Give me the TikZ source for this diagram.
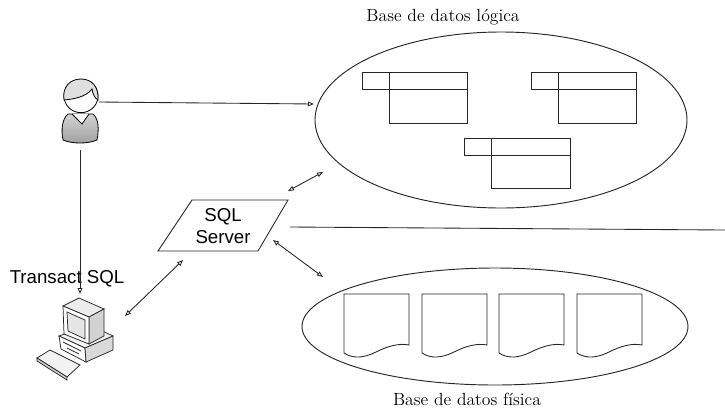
\documentclass[tikz,border=0pt]{standalone}
\usepackage{fontspec}
\newfontfamily\arialfont{Liberation Sans}
\usetikzlibrary{arrows.meta,shapes.geometric}

\begin{document}
\begin{tikzpicture}[x=0.75pt,y=-0.75pt,
  ln/.style={line width=0.65pt, draw=black!85},
  onetip/.style={-{Triangle[open,length=4.5pt,width=3.5pt]}},
  twotip/.style={{Triangle[open,length=4.5pt,width=3.5pt]}-{Triangle[open,length=4.5pt,width=3.5pt]}},
  bubble/.style={ellipse, draw=black!85, line width=0.7pt, inner sep=0pt},
  caption/.style={font=\fontsize{13.2}{15}\selectfont, inner sep=0pt},
  sans/.style={font=\arialfont\fontsize{14}{16.5}\selectfont, inner sep=0pt, align=center},
  tbl/.style={draw=black!85, line width=0.65pt},
  docsheet/.style={draw=black!85, line width=0.65pt}
]
\useasboundingbox (0,0) rectangle (725,412);

% ---- logical database ----
\node[caption] (ttop) at (443,17) {Base de datos lógica};
\node[bubble, minimum width=279pt, minimum height=132pt] (logic) at (501,120) {};

% tables: header row with key cell, body under the wide part
\foreach \l/\d/\r/\t/\b in {362/389/467/72/123, 531/558/636/72/123, 464/491/570/138/188}{
  \pgfmathsetmacro{\h}{\t+17}
  \draw[tbl] (\l,\t) rectangle (\r,\h);
  \draw[tbl] (\d,\t) -- (\d,\b) -- (\r,\b) -- (\r,\h);
}

% ---- physical database ----
\node[bubble, minimum width=289.5pt, minimum height=87.75pt] (phys) at (495,326.5) {};
\node[caption] (tbot) at (467,399) {Base de datos física};
\foreach \l in {344,422,499,577}{
  \draw[docsheet] (\l,353) -- (\l,294) -- (\l+65,294) -- (\l+65,345)
    .. controls (\l+55,343) and (\l+44,346) .. (\l+32,352)
    .. controls (\l+20,358) and (\l+9,359) .. (\l,353);
}

% ---- SQL Server ----
\node[sans] (sql) at (223,226) {SQL\\Server};
\draw[ln] (192,200) -- (288,200) -- (258,251) -- (158,251) -- cycle;

% ---- user ----
\coordinate (user) at (80,110);
\begin{scope}[line width=0.6pt]
  \draw[top color=gray!35, bottom color=gray!75]
     (63,140) .. controls (61,130) and (62,119) .. (68,114)
     -- (93,114) .. controls (99,119) and (99,130) .. (97,140)
     .. controls (88,144) and (72,144) .. (63,140) -- cycle;
  \fill[white] (72,114) -- (82,124) -- (89,114) -- cycle;
  \draw (72,114) -- (82,124) -- (89,114);
  \draw[fill=white] (81,96) ellipse [x radius=12.75pt, y radius=12.5pt];
  \draw[fill=gray!25] (64,100) .. controls (62,87) and (70,79) .. (81,79)
     .. controls (92,79) and (99,87) .. (98,100)
     .. controls (95,98) and (93,95) .. (92,89)
     .. controls (86,97) and (74,99) .. (64,100) -- cycle;
\end{scope}

% ---- workstation ----
\coordinate (pc) at (80,340);
\begin{scope}[line width=0.55pt, draw=black!85]
  % system unit
  \draw[fill=gray!10] (59,336) -- (85,348) -- (113,336) -- (90,325) -- cycle;
  \draw[fill=white] (59,336) -- (85,348) -- (86,362) -- (61,349) -- cycle;
  \draw[fill=gray!30] (85,348) -- (113,336) -- (113,350) -- (86,362) -- cycle;
  \draw (63,342) -- (81,351);
  \draw (67,348) -- (79,354);
  % monitor
  \draw[fill=gray!15] (63,306) -- (79,298) -- (104,309) -- (89,317) -- cycle;
  \draw[fill=gray!35] (89,317) -- (104,309) -- (104,336) -- (89,344) -- cycle;
  \draw[fill=white] (63,306) -- (89,317) -- (89,344) -- (64,334) -- cycle;
  \draw[fill=gray!20] (67,312) -- (85,320) -- (85,339) -- (68,331) -- cycle;
  % keyboard
  \draw[fill=gray!10] (37,358) -- (50,350) -- (80,365) -- (67,377) -- cycle;
  \draw[fill=gray!35] (37,358) -- (67,377) -- (67,380) -- (37,361) -- cycle;
\end{scope}

\node[sans] (tsql) at (67,279) {Transact SQL};

% ---- connectors ----
\coordinate (uE) at (99,102);
\coordinate (lW) at (314,104);
\draw[ln, onetip] (uE) -- (lW);

\coordinate (uS) at (80,150);
\coordinate (pN) at (80,294);
\draw[ln, onetip] (uS) -- (pN);

\coordinate (pcR) at (125,316);
\coordinate (sqlSW) at (183,260);
\draw[ln, twotip] (pcR) -- (sqlSW);

\coordinate (sqlNE) at (288,191);
\coordinate (logSW) at (323,172);
\draw[ln, twotip] (sqlNE) -- (logSW);

\coordinate (sqlE) at (273,240);
\coordinate (phyNW) at (323,277);
\draw[ln, twotip] (sqlE) -- (phyNW);

\coordinate (divL) at (290,227);
\coordinate (divR) at (725,230);
\draw[ln] (divL) -- (divR);
\end{tikzpicture}
\end{document}
